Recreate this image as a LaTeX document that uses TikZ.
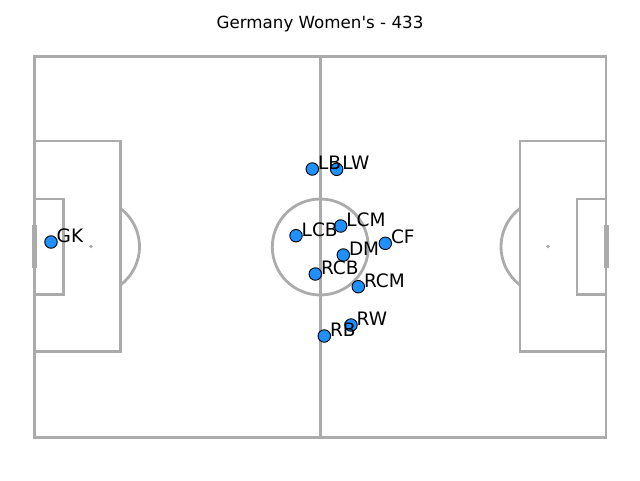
\documentclass[tikz,border=0pt]{standalone}
\usepackage{fontspec}
\setmainfont{DejaVu Sans}
\definecolor{pitchline}{HTML}{ABABAB}
\definecolor{dotblue}{HTML}{1E90FF}
\begin{document}
\begin{tikzpicture}[x=1pt,y=-1pt,
  pline/.style={draw=pitchline,line width=2.8pt},
  goalline/.style={draw=pitchline,line width=5pt},
  spot/.style={fill=pitchline,circle,inner sep=0pt,minimum size=3.8pt},
  player/.style={circle,fill=dotblue,draw=black,line width=0.9pt,inner sep=0pt,minimum size=12.5pt},
  plabel/.style={anchor=base west,inner sep=0pt,font=\fontsize{18.5}{18.5}\selectfont},
  titlestyle/.style={anchor=base,inner sep=0pt,font=\fontsize{16.7}{16.7}\selectfont}]
\useasboundingbox (0,0) rectangle (640,480);
% pitch
\draw[pline] (34.5,56.5) rectangle (606,437.5);
\draw[pline] (320.3,56.5) -- (320.3,437.5);
\draw[pline] (320.3,247) circle (48);
\node[spot,minimum size=2.8pt] (cspot) at (320.3,247) {};
% left
\draw[pline] (34.5,141) -- (120.5,141) -- (120.5,351.5) -- (34.5,351.5);
\draw[pline] (34.5,199) -- (63.5,199) -- (63.5,294.5) -- (34.5,294.5);
\node[spot] (lspot) at (91,246.5) {};
\draw[pline] (120.5,208.5) arc[start angle=-52.8,end angle=52.8,radius=48] ;
\draw[goalline] (34.5,225) -- (34.5,268);
% right
\draw[pline] (606,141) -- (520,141) -- (520,351.5) -- (606,351.5);
\draw[pline] (606,199) -- (577,199) -- (577,294.5) -- (606,294.5);
\node[spot] (rspot) at (548,246.5) {};
\draw[pline] (520,208.5) arc[start angle=232.8,end angle=127.2,radius=48];
\draw[goalline] (606,225) -- (606,268);
% title
\node[titlestyle] (title) at (320,28) {Germany Women\textquotesingle s - 433};
% players
\node[player] (gk) at (51,242) {};
\node[player] (lb) at (312.3,169) {};
\node[player] (lw) at (336.7,169.3) {};
\node[player] (lcb) at (296,235.7) {};
\node[player] (lcm) at (340.7,226) {};
\node[player] (cf) at (385.3,243.3) {};
\node[player] (dm) at (343.3,255) {};
\node[player] (rcb) at (315.3,274) {};
\node[player] (rcm) at (358.3,286.7) {};
\node[player] (rw) at (351,325) {};
\node[player] (rb) at (324.3,336) {};
% labels
\foreach \p/\t in {gk/GK,lb/LB,lw/LW,lcb/LCB,lcm/LCM,cf/CF,dm/DM,rcb/RCB,rcm/RCM,rw/RW,rb/RB}{
  \node[plabel] (\p-l) at ([xshift=5.5pt,yshift=-0.3pt]\p.center) {\t};
}
\end{tikzpicture}
\end{document}
